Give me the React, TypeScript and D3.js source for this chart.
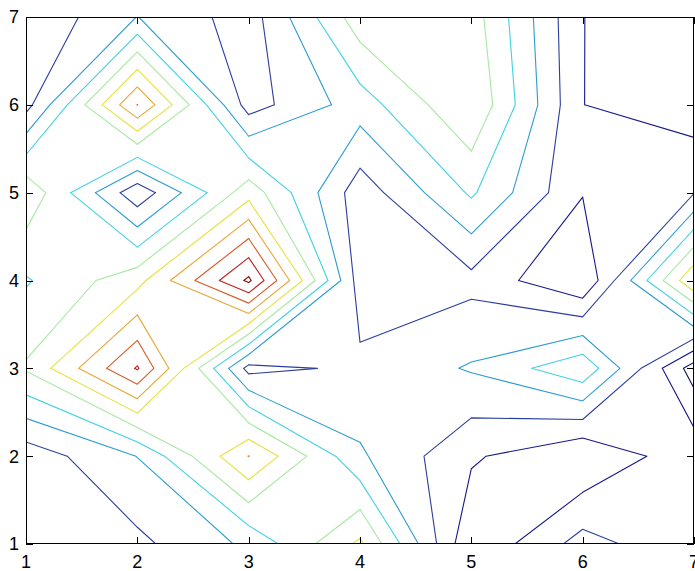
import React from 'react';
import * as d3 from 'd3';

const xValues = [1, 2, 3, 4, 5, 6, 7];
const yValues = [1, 2, 3, 4, 5, 6, 7];

// grid values, one array per y row (y = 1 .. 7), columns x = 1 .. 7
const rowY1 = [0.3, 0.76, 2.2, 5.2, -0.9, 1.4, 0.19];
const rowY2 = [0.4, 2.02, 6.03, 2.15, 0.15, -0.98, 0.72];
const rowY3 = [4.12, 8.1, 0.66, 1.21, 2.1, 3.76, -1.5];
const rowY4 = [2.9, 4.65, 9.2, 0.5, 0.7, -0.95, 5.9];
const rowY5 = [4.8, 0.3, 4.6, 0.42, 3.15, 0.05, 0.95];
const rowY6 = [0.63, 7.02, 0.55, 2.5, 4.95, 0.01, -0.56];
const rowY7 = [0.09, 2.02, 0.5, 4.6, 4.5, 0.01, -0.5];
const zRows = [rowY1, rowY2, rowY3, rowY4, rowY5, rowY6, rowY7];

const levels = [-1, 0, 1, 2, 3, 4, 5, 6, 7, 8, 9];
const levelColors = [
  '#0c0c70', '#16188a', '#2a3e9e', '#2c9cd0', '#3ed2e2', '#a6e8a0',
  '#e4e23c', '#e8a630', '#d85a28', '#c01c1c', '#780808',
];

const xTicks = [1, 2, 3, 4, 5, 6, 7];
const yTicks = [1, 2, 3, 4, 5, 6, 7];

type Seg = [number, number, number, number];

function contourSegments(z: number[][], xs: number[], ys: number[], L: number): Seg[] {
  const segs: Seg[] = [];
  const lerp = (a: number, b: number, za: number, zb: number) => a + ((L - za) / (zb - za)) * (b - a);
  for (let j = 0; j < ys.length - 1; j++) {
    for (let i = 0; i < xs.length - 1; i++) {
      const x0 = xs[i], x1 = xs[i + 1], y0 = ys[j], y1 = ys[j + 1];
      const z00 = z[j][i], z10 = z[j][i + 1], z01 = z[j + 1][i], z11 = z[j + 1][i + 1];
      const a00 = z00 > L, a10 = z10 > L, a01 = z01 > L, a11 = z11 > L;
      const pts: Record<string, [number, number]> = {};
      if (a00 !== a10) pts.b = [lerp(x0, x1, z00, z10), y0];
      if (a10 !== a11) pts.r = [x1, lerp(y0, y1, z10, z11)];
      if (a01 !== a11) pts.t = [lerp(x0, x1, z01, z11), y1];
      if (a00 !== a01) pts.l = [x0, lerp(y0, y1, z00, z01)];
      const keys = Object.keys(pts);
      if (keys.length === 2) {
        const p = pts[keys[0]], q = pts[keys[1]];
        segs.push([p[0], p[1], q[0], q[1]]);
      } else if (keys.length === 4) {
        const c = (z00 + z10 + z01 + z11) / 4 > L;
        const pairs: [string, string][] = [];
        if (a00 !== c) pairs.push(['b', 'l']);
        if (a10 !== c) pairs.push(['b', 'r']);
        if (a11 !== c) pairs.push(['r', 't']);
        if (a01 !== c) pairs.push(['t', 'l']);
        for (const [u, v] of pairs) {
          segs.push([pts[u][0], pts[u][1], pts[v][0], pts[v][1]]);
        }
      }
    }
  }
  return segs;
}

const W = 695, H = 571;
const left = 26, right = 694, top = 17, bottom = 544;

export default function App() {
  const xs = d3.scaleLinear().domain([1, 7]).range([left, right]);
  const ys = d3.scaleLinear().domain([1, 7]).range([bottom, top]);

  const paths = levels.map((L, k) => {
    const segs = contourSegments(zRows, xValues, yValues, L);
    const p = d3.path();
    segs.forEach(([ax, ay, bx, by]) => {
      p.moveTo(xs(ax), ys(ay));
      p.lineTo(xs(bx), ys(by));
    });
    return { d: p.toString(), color: levelColors[k], key: L };
  });

  const font = '"Liberation Sans", Arial, Helvetica, sans-serif';
  const tickLen = 7;

  return (
    <svg width={W} height={H} style={{ position: 'absolute', left: 0, top: 0, background: '#fff' }}>
      <rect x={0} y={0} width={W} height={H} fill="#fff" />
      <defs>
        <clipPath id="plotclip">
          <rect x={left} y={top} width={right - left} height={bottom - top} />
        </clipPath>
      </defs>
      <g clipPath="url(#plotclip)">
        {paths.map((p) => (
          <path key={p.key} d={p.d} fill="none" stroke={p.color} strokeWidth={1.1}
            strokeLinecap="round" strokeLinejoin="round" />
        ))}
      </g>
      <rect x={left + 0.5} y={top + 0.5} width={right - left - 1} height={bottom - top - 1}
        fill="none" stroke="#000" strokeWidth={1} />
      {xTicks.map((t) => (
        <g key={'xt' + t}>
          <line x1={Math.round(xs(t)) + 0.5} x2={Math.round(xs(t)) + 0.5} y1={bottom} y2={bottom - tickLen} stroke="#000" />
          <line x1={Math.round(xs(t)) + 0.5} x2={Math.round(xs(t)) + 0.5} y1={top} y2={top + tickLen} stroke="#000" />
          <text x={xs(t)} y={568} textAnchor="middle" fontFamily={font} fontSize={18} fill="#000">{t}</text>
        </g>
      ))}
      {yTicks.map((t) => (
        <g key={'yt' + t}>
          <line x1={left} x2={left + tickLen} y1={Math.round(ys(t)) + 0.5} y2={Math.round(ys(t)) + 0.5} stroke="#000" />
          <line x1={right} x2={right - tickLen} y1={Math.round(ys(t)) + 0.5} y2={Math.round(ys(t)) + 0.5} stroke="#000" />
          <text x={19} y={ys(t)} dy="0.36em" textAnchor="end" fontFamily={font} fontSize={18} fill="#000">{t}</text>
        </g>
      ))}
    </svg>
  );
}
